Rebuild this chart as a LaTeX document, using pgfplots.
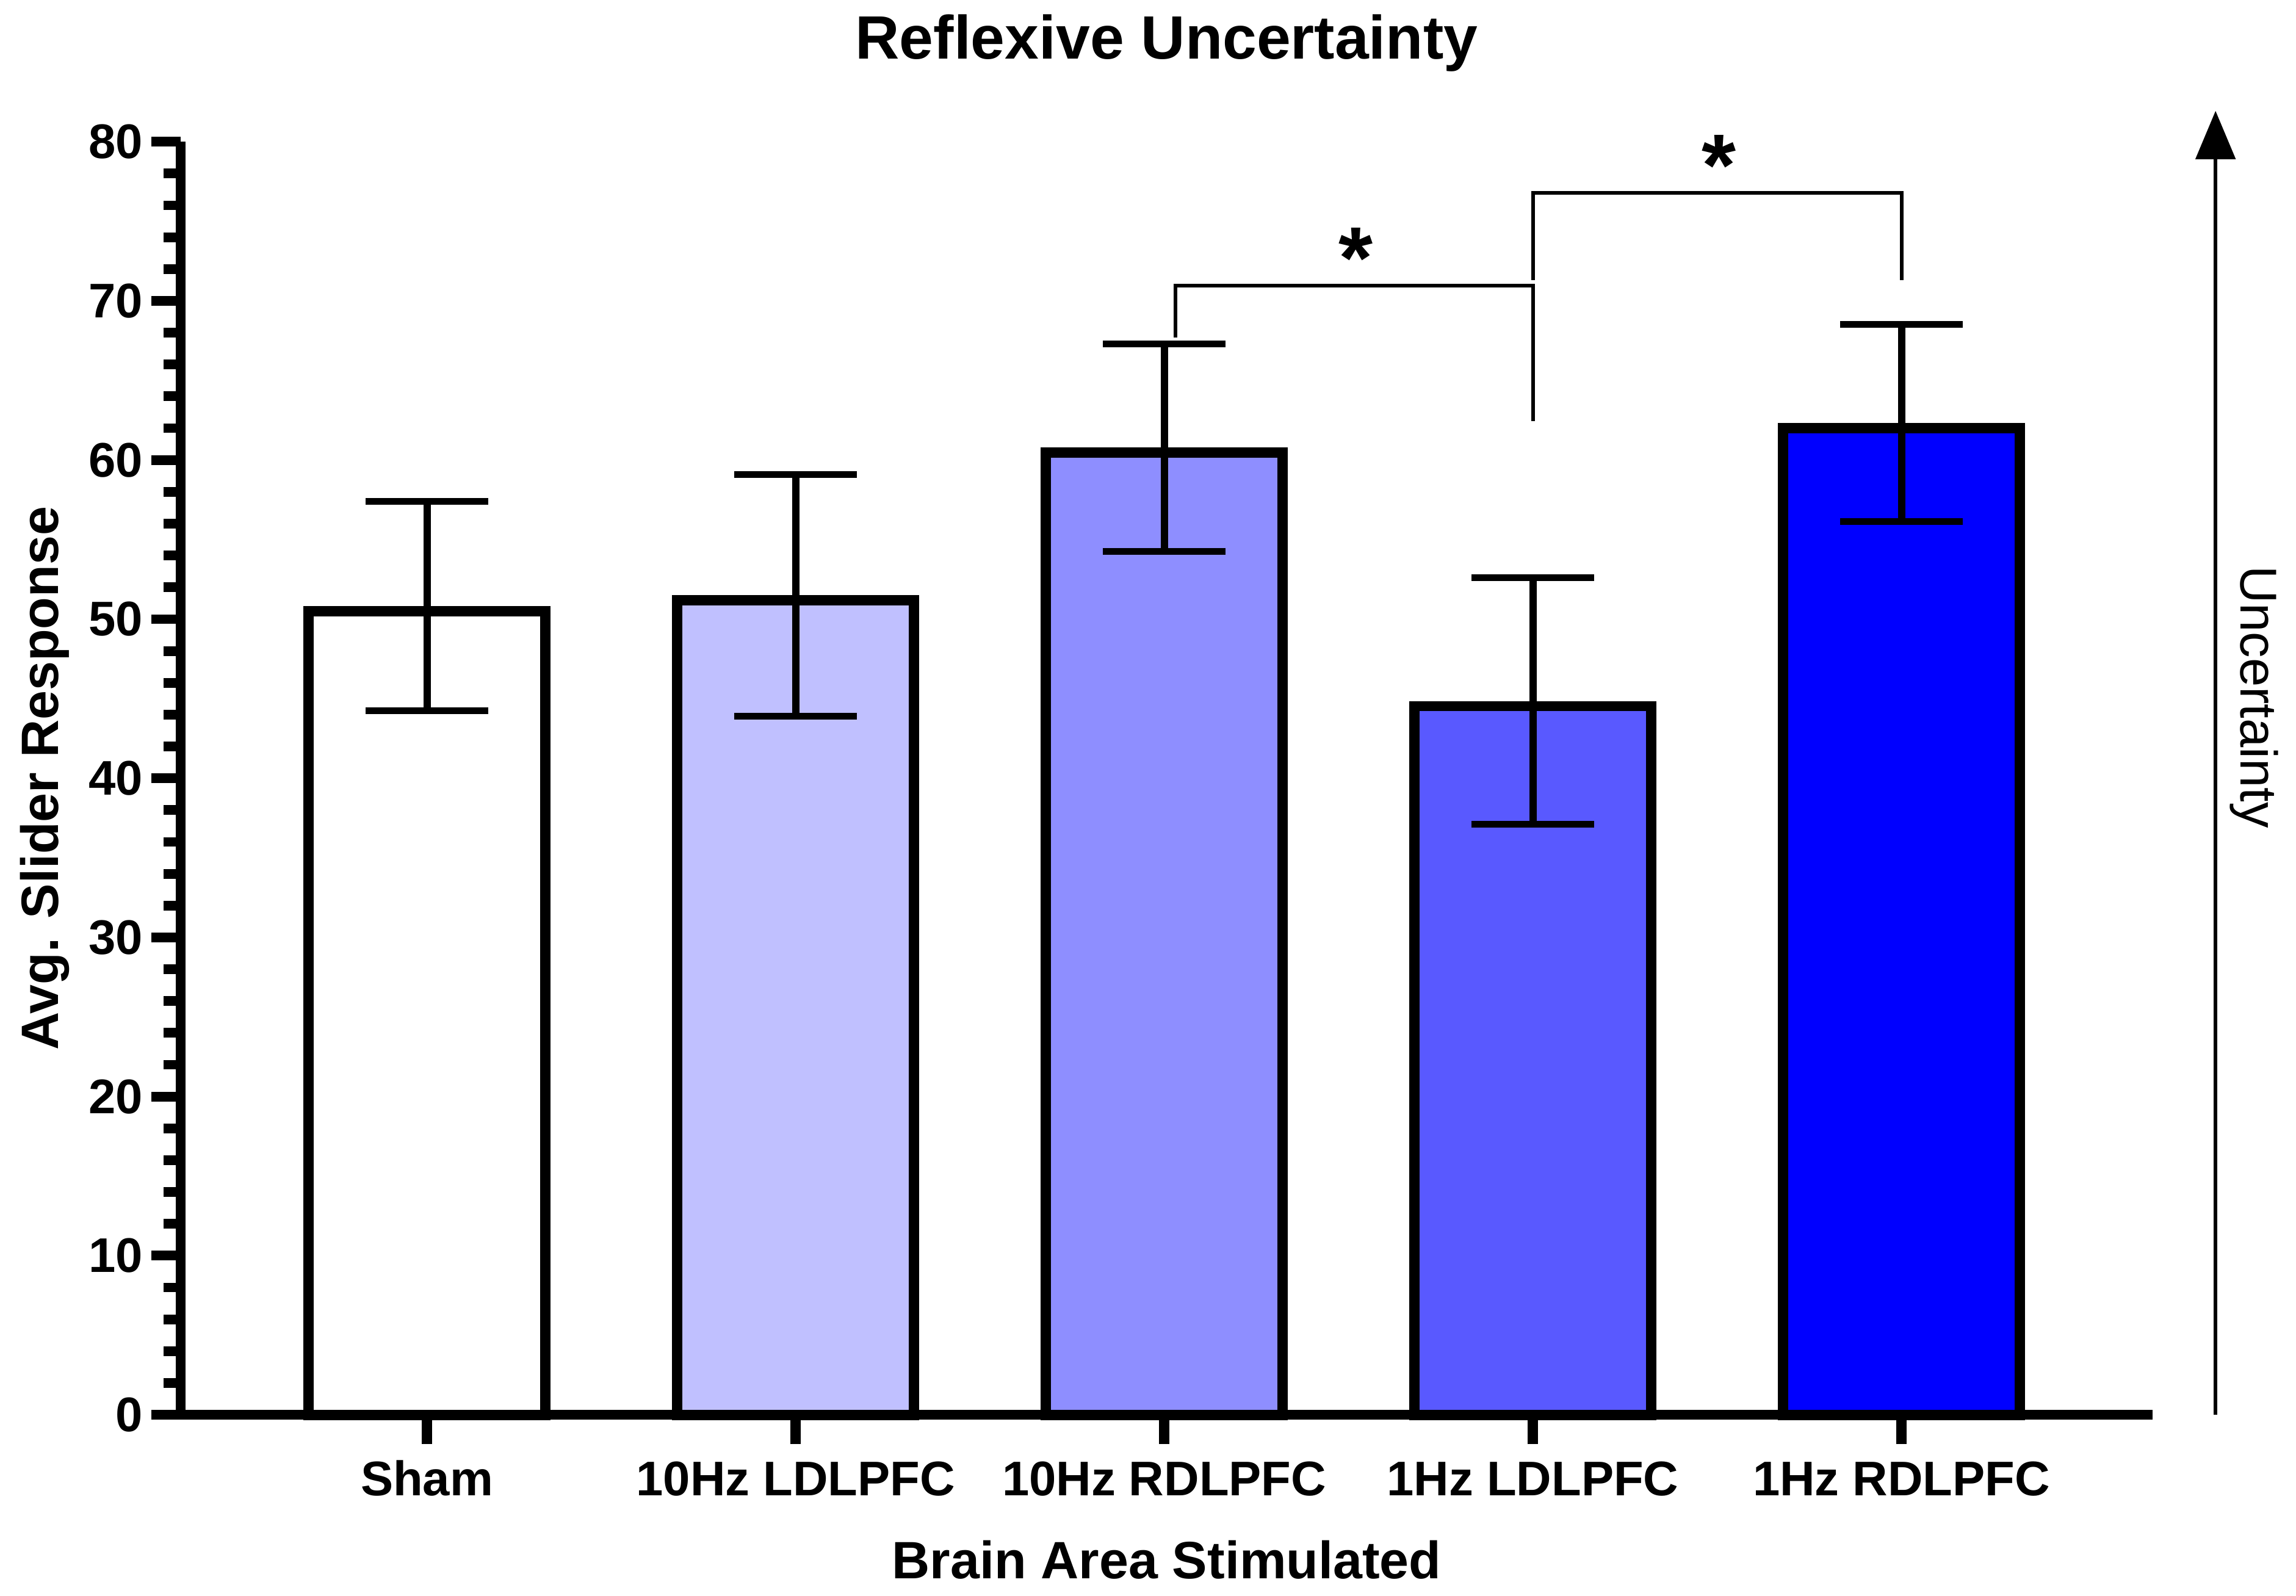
\documentclass[border=0pt]{standalone}
\usepackage{fontspec}
\setmainfont{Liberation Sans}
\usepackage{pgfplots}
\pgfplotsset{compat=1.18}
\usetikzlibrary{arrows.meta}

\definecolor{cSham}{RGB}{255,255,255}
\definecolor{cTenL}{RGB}{192,192,255}
\definecolor{cTenR}{RGB}{142,142,255}
\definecolor{cOneL}{RGB}{89,89,255}
\definecolor{cOneR}{RGB}{0,0,255}

\tikzset{
  barstyle/.style={ybar, draw=black, line width=3.5bp, line join=miter},
  bracket/.style={line width=1.25bp, line join=miter},
}

\begin{document}
\begin{tikzpicture}
\path[use as bounding box, fill=white] (-61.7bp,-61.7bp) rectangle (722.3bp,483.1bp);
\begin{axis}[
  at={(0,0)}, anchor=south west,
  scale only axis,
  width=673.3bp, height=434.7bp,
  xmin=-0.668, xmax=4.681,
  ymin=0, ymax=80,
  clip=false,
  axis x line*=bottom,
  axis y line*=left,
  axis line style={line width=3.4bp},
  bar shift=0pt,
  bar width=0.643,
  xtick={0,1,2,3,4},
  xticklabels={Sham,10Hz LDLPFC,10Hz RDLPFC,1Hz LDLPFC,1Hz RDLPFC},
  ytick={0,10,...,80},
  minor y tick num=4,
  tick align=outside,
  major tick length=10bp,
  minor tick length=5.8bp,
  every tick/.style={black, line width=3.3bp},
  x tick style={line width=3.5bp},
  /pgf/number format/assume math mode=true,
  ticklabel style={font=\fontsize{16.6bp}{19bp}\selectfont\bfseries},
  yticklabel style={anchor=east, inner sep=0pt, xshift=-2.7bp},
  xticklabel style={anchor=base, inner sep=0pt, yshift=-17.5bp},
  every axis title shift=0pt,
  title={Reflexive Uncertainty},
  title style={at={(rel axis cs:0.5,1)}, anchor=base, yshift=28.2bp,
    inner sep=0pt, font=\fontsize{20.9bp}{24bp}\selectfont\bfseries},
  xlabel={Brain Area Stimulated},
  xlabel style={at={(rel axis cs:0.5,0)}, anchor=base, yshift=-56bp,
    inner sep=0pt, font=\fontsize{17.95bp}{21bp}\selectfont\bfseries},
  ylabel={Avg. Slider Response},
  ylabel style={at={([xshift=-41.9bp]rel axis cs:0,0.5)}, anchor=base,
    inner sep=0pt, font=\fontsize{17.95bp}{21bp}\selectfont\bfseries},
]

% bars (border is drawn inside the bar in the original, hence the small offset)
\addplot[barstyle, fill=cSham, y filter/.expression={y-0.32}] coordinates {(0,50.83)};
\addplot[barstyle, fill=cTenL, y filter/.expression={y-0.32}] coordinates {(1,51.50)};
\addplot[barstyle, fill=cTenR, y filter/.expression={y-0.32}] coordinates {(2,60.79)};
\addplot[barstyle, fill=cOneL, y filter/.expression={y-0.32}] coordinates {(3,44.85)};
\addplot[barstyle, fill=cOneR, y filter/.expression={y-0.32}] coordinates {(4,62.33)};

% mean +- error
\addplot[draw=none, mark=none,
  error bars/.cd, y dir=both, y explicit,
  error bar style={line width=2.5bp, black},
  error mark options={rotate=90, line width=2.3bp, mark size=20.95bp, black}]
  table[x=x, y=m, y error=e] {
x m     e
0 50.83 6.57
1 51.50 7.60
2 60.79 6.52
3 44.85 7.75
4 62.33 6.20
};

% significance brackets
\addplot[bracket] coordinates {(2.031,67.7) (2.031,70.95) (3,70.95) (3,62.45)};
\addplot[bracket] coordinates {(3,71.31) (3,76.78) (4,76.78) (4,71.31)};
\node[anchor=north, inner sep=0pt, font=\fontsize{30bp}{30bp}\selectfont\bfseries]
  at (axis cs:2.52,74.63) {*};
\node[anchor=north, inner sep=0pt, font=\fontsize{30bp}{30bp}\selectfont\bfseries]
  at (axis cs:3.505,80.46) {*};

% uncertainty arrow
\addplot[line width=1.25bp, -{Triangle[width=13.5bp,length=16.5bp]}]
  coordinates {(4.852,0) (4.852,81.94)};
\node[rotate=-90, anchor=base, inner sep=0pt, font=\fontsize{17.7bp}{21bp}\selectfont]
  at (axis cs:4.921,45.1) {Uncertainty};

\end{axis}
\end{tikzpicture}
\end{document}
